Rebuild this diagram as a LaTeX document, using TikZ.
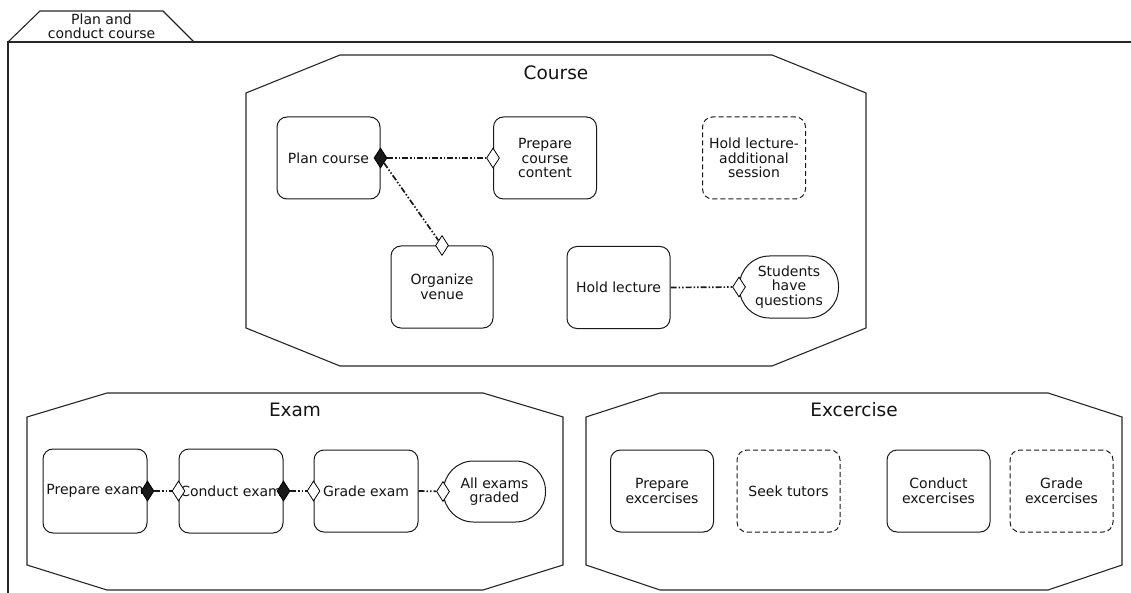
\documentclass[tikz,border=0pt]{standalone}
\usepackage{fontspec}
\setmainfont{DejaVu Sans}
\usetikzlibrary{shapes.geometric}
\begin{document}
\begin{tikzpicture}[x=1pt,y=-1pt,
  every node/.style={font=\fontsize{14}{14.5}\selectfont, text=black!92},
  frameline/.style={draw=black!85, line width=1.1pt},
  act/.style={rectangle, draw=black!90, line width=1pt, rounded corners=10pt, fill=white,
    minimum width=103pt, minimum height=82pt, align=center, inner sep=1pt},
  optact/.style={act, dash pattern=on 5pt off 3pt},
  evt/.style={rectangle, draw=black!90, line width=1pt, rounded corners=30pt, fill=white,
    minimum width=100pt, minimum height=62pt, align=center, inner sep=1pt},
  fdiam/.style={diamond, draw=black, line width=0.8pt, fill=black!90, minimum width=13pt,
    minimum height=20pt, inner sep=0pt},
  odiam/.style={fdiam, fill=white},
  link/.style={draw=black!90, line width=1.7pt,
    dash pattern=on 6pt off 2pt on 1.5pt off 2pt on 1.5pt off 2pt},
  grouptitle/.style={font=\fontsize{18.5}{20}\selectfont}
]
\useasboundingbox (0,0) rectangle (1131,593);

% outer frame with its tab
\draw[frameline] (8,593) -- (8,42) -- (1131,42);
\draw[frameline] (8,42) -- (40,11) -- (163,11) -- (194,42);
\node[align=center, font=\fontsize{14}{13.5}\selectfont] (frametitle) at (101.5,26.5) {Plan and\\conduct course};

% group outlines
\draw[frameline] (246,93) -- (340,55) -- (772,55) -- (866,93) -- (866,328) -- (772,366) -- (340,366) -- (246,328) -- cycle;
\draw[frameline] (27,417) -- (107,393) -- (483,393) -- (563,417) -- (563,565) -- (483,590) -- (107,590) -- (27,565) -- cycle;
\draw[frameline] (586,417) -- (660,393) -- (1048,393) -- (1122,417) -- (1122,565) -- (1048,590) -- (660,590) -- (586,565) -- cycle;

\node[grouptitle] (tcourse) at (556,73) {Course};
\node[grouptitle] (texam) at (295,410) {Exam};
\node[grouptitle] (texc) at (854,410) {Excercise};

% Course
\node[act] (plan) at (328.5,158) {Plan course};
\node[act] (prep) at (545,158) {Prepare\\course\\content};
\node[act, minimum width=102pt] (venue) at (442,287) {Organize\\venue};
\node[act] (lecture) at (618.5,287.5) {Hold lecture};
\node[optact] (addl) at (754,158) {Hold lecture-\\additional\\session};
\node[evt, minimum width=99pt] (questions) at (789,287) {Students\\have\\questions};

\node[fdiam] (dplan) at (plan.east) {};
\node[odiam] (dprep) at (prep.west) {};
\node[odiam] (dvenue) at (venue.north) {};
\node[odiam] (dquest) at (questions.west) {};

\draw[link] (dplan) -- (dprep);
\draw[link] (dplan) -- (dvenue);
\draw[link] (lecture.east) -- (dquest);

% Exam
\node[act, minimum width=104pt, minimum height=84pt] (pexam) at (95,491) {Prepare exam};
\node[act, minimum width=104pt, minimum height=84pt] (cexam) at (231,491) {Conduct exam};
\node[act, minimum width=104pt, minimum height=82pt] (gexam) at (366,491) {Grade exam};
\node[evt, minimum width=102pt, minimum height=61pt] (graded) at (494.5,491.5) {All exams\\graded};

\node[fdiam] (dpexam) at (pexam.east) {};
\node[odiam] (dcexamin) at (cexam.west) {};
\node[fdiam] (dcexamout) at (cexam.east) {};
\node[odiam] (dgexam) at (gexam.west) {};
\node[odiam] (dgraded) at (graded.west) {};

\draw[link] (dpexam) -- (dcexamin);
\draw[link] (dcexamout) -- (dgexam);
\draw[link] (gexam.east) -- (dgraded);

% Excercise
\node[act, minimum height=82pt] (pexc) at (662,491) {Prepare\\excercises};
\node[optact, minimum height=82pt] (tutors) at (788.5,491) {Seek tutors};
\node[act, minimum height=82pt] (cexc) at (938.5,491) {Conduct\\excercises};
\node[optact, minimum height=82pt] (gexc) at (1061.5,491) {Grade\\excercises};
\end{tikzpicture}
\end{document}
